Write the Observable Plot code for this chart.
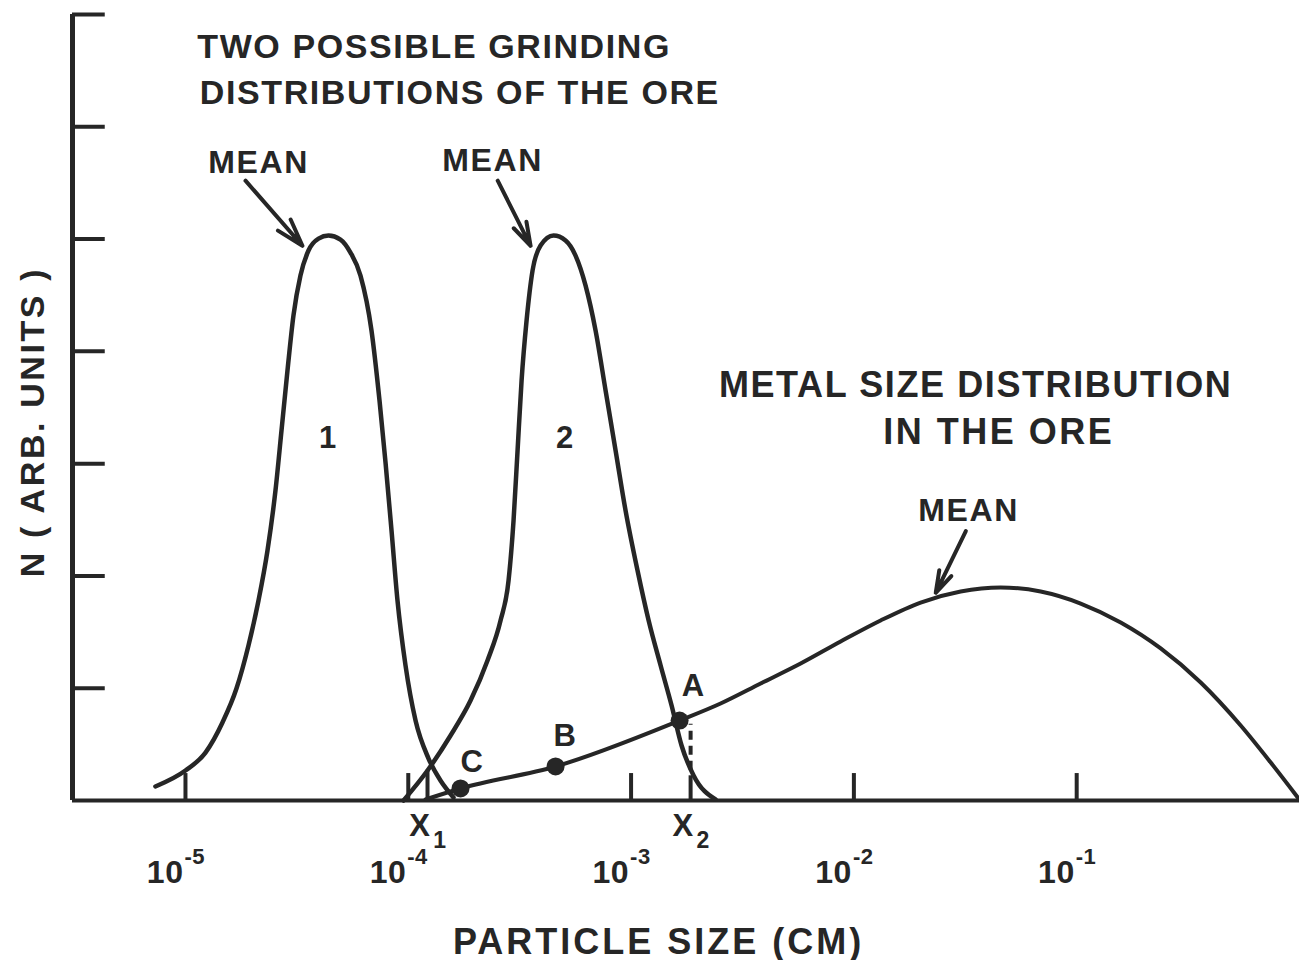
<!DOCTYPE html>
<html>
<head>
<meta charset="utf-8">
<script src="https://cdn.jsdelivr.net/npm/d3@7"></script>
<script src="https://cdn.jsdelivr.net/npm/@observablehq/plot@0.6"></script>
<style>
  html, body { margin: 0; padding: 0; background: #ffffff; }
  #chart { width: 1299px; height: 960px; }
  .xtitle text { letter-spacing: 3px; }
  .ytitle text { letter-spacing: 2.6px; }
  .wide text { letter-spacing: 2.5px; }
  .tight text { letter-spacing: 0.5px; }
</style>
</head>
<body>
<div id="chart"></div>
<script>
// ---------------- data (particle size in cm, N in arbitrary units) ----------------
// grinding distribution 1
const grind1Size = [7.33e-6, 1.0e-5, 1.23e-5, 1.466e-5, 1.694e-5, 1.918e-5, 2.127e-5, 2.334e-5, 2.535e-5, 2.698e-5, 2.87e-5, 3.053e-5, 3.282e-5, 3.566e-5, 3.955e-5, 4.385e-5, 4.963e-5, 5.503e-5, 6.103e-5, 6.839e-5, 7.429e-5, 7.905e-5, 8.41e-5, 8.946e-5, 9.72e-5, 1.078e-4, 1.233e-4, 1.395e-4, 1.596e-4];
const grind1N    = [0.125, 0.267, 0.427, 0.695, 0.997, 1.38, 1.781, 2.226, 2.76, 3.295, 3.829, 4.319, 4.675, 4.898, 5.004, 5.031, 4.996, 4.88, 4.675, 4.185, 3.562, 3.01, 2.404, 1.781, 1.202, 0.712, 0.374, 0.178, 0.027];

// grinding distribution 2
const grind2Size = [9.52e-5, 1.22e-4, 1.548e-4, 1.903e-4, 2.268e-4, 2.595e-4, 2.819e-4, 2.968e-4, 3.094e-4, 3.225e-4, 3.396e-4, 3.613e-4, 3.924e-4, 4.488e-4, 5.08e-4, 5.633e-4, 6.249e-4, 6.93e-4, 7.685e-4, 8.522e-4, 9.447e-4, 1.069e-3, 1.199e-3, 1.357e-3, 1.52e-3, 1.685e-3, 1.908e-3, 2.394e-3];
const grind2N    = [0.0, 0.267, 0.579, 0.89, 1.247, 1.603, 1.959, 2.493, 3.117, 3.74, 4.274, 4.72, 4.942, 5.031, 4.987, 4.853, 4.586, 4.185, 3.651, 3.117, 2.582, 2.048, 1.603, 1.202, 0.846, 0.49, 0.223, 0.009];

// metal size distribution in the ore
const metalSize = [1.195e-4, 1.716e-4, 4.583e-4, 1.651e-3, 2.522e-3, 3.814e-3, 5.767e-3, 8.719e-3, 1.318e-2, 1.993e-2, 3.014e-2, 4.558e-2, 6.891e-2, 0.1042, 0.1576, 0.2383, 0.3603, 0.5447, 0.7429, 0.982];
const metalN    = [0.009, 0.107, 0.303, 0.712, 0.864, 1.042, 1.22, 1.416, 1.603, 1.763, 1.861, 1.897, 1.861, 1.754, 1.585, 1.354, 1.051, 0.668, 0.338, 0.027];

// marked points C, B, A on the metal curve
const pointName = ["C", "B", "A"];
const pointSize = [1.716e-4, 4.583e-4, 1.651e-3];
const pointN    = [0.107, 0.303, 0.712];

// cut sizes X1, X2
const cutName = ["1", "2"];
const cutSize = [1.22e-4, 1.85e-3];

// axis ticks
const xTickValues = [1e-5, 1e-4, 1e-3, 1e-2, 1e-1];
const xTickExponents = ["-5", "-4", "-3", "-2", "-1"];
const yTickValues = [1, 2, 3, 4, 5, 6, 7];

// annotation labels
const meanSize = [2.13e-5, 2.39e-4, 3.27e-2];
const meanN    = [5.68, 5.70, 2.58];
const curveLabel = ["1", "2", "A", "B", "C"];
const curveLabelSize = [4.385e-5, 5.08e-4, 1.91e-3, 5.08e-4, 1.94e-4];
const curveLabelN    = [3.23, 3.23, 1.02, 0.57, 0.34];

const titleLines = ["TWO POSSIBLE GRINDING", "DISTRIBUTIONS OF THE ORE"];
const titleSize  = [1.13e-5, 1.16e-5];
const titleN     = [6.71, 6.30];

const metalLines = ["METAL SIZE DISTRIBUTION", "IN THE ORE"];
const metalLineSize = [3.52e-2, 4.47e-2];
const metalLineN    = [3.70, 3.28];

// arrows pointing to the means
const arrowFromSize = [1.86e-5, 2.52e-4, 3.18e-2];
const arrowFromN    = [5.52, 5.52, 2.40];
const arrowToSize   = [3.35e-5, 3.54e-4, 2.33e-2];
const arrowToN      = [4.94, 4.94, 1.85];

const xAxisTitle = "PARTICLE SIZE (CM)";
const yAxisTitle = "N ( ARB. UNITS )";

// ---------------- build ----------------
const ink = "#262626";
const font = "Liberation Sans, Arial, sans-serif";
const xMin = Math.pow(10, -5.507), xMax = 1;

const zip = (xs, ys) => xs.map((x, i) => ({x, y: ys[i]}));
const g1 = zip(grind1Size, grind1N);
const g2 = zip(grind2Size, grind2N);
const metal = zip(metalSize, metalN);
const pts = pointName.map((n, i) => ({n, x: pointSize[i], y: pointN[i]}));
const means = zip(meanSize, meanN);
const cLabels = curveLabel.map((t, i) => ({t, x: curveLabelSize[i], y: curveLabelN[i]}));
const titles = titleLines.map((t, i) => ({t, x: titleSize[i], y: titleN[i]}));
const mLines = metalLines.map((t, i) => ({t, x: metalLineSize[i], y: metalLineN[i]}));
const arrows = arrowFromSize.map((x, i) => ({x1: x, y1: arrowFromN[i], x2: arrowToSize[i], y2: arrowToN[i]}));
const xTicks = xTickValues.map((v, i) => ({v, e: xTickExponents[i]}));
const cuts = cutName.map((n, i) => ({n, v: cutSize[i]}));
const yTickEnd = Math.pow(10, -5.36);
const bold = {fill: ink, fontWeight: "bold", lineAnchor: "middle"};

const chart = Plot.plot({
  width: 1299,
  height: 960,
  marginLeft: 72,
  marginRight: 0,
  marginTop: 14,
  marginBottom: 160,
  style: {background: "#ffffff", fontFamily: font, letterSpacing: "1.6px", color: ink},
  x: {type: "log", domain: [xMin, xMax], axis: null},
  y: {domain: [0, 7], axis: null},
  marks: [
    // axes and ticks
    Plot.ruleY([0], {x1: xMin, x2: xMax, stroke: ink, strokeWidth: 4}),
    Plot.ruleX([xMin], {y1: 0, y2: 7, stroke: ink, strokeWidth: 5}),
    Plot.ruleY(yTickValues, {x1: xMin, x2: yTickEnd, stroke: ink, strokeWidth: 4}),
    Plot.ruleX(xTickValues, {y1: 0, y2: 0.24, stroke: ink, strokeWidth: 4}),
    Plot.ruleX(cuts, {x: "v", y1: 0, y2: (d, i) => i === 0 ? 0.27 : 0.22, stroke: ink, strokeWidth: 4}),
    Plot.ruleX([cutSize[1]], {y1: 0.27, y2: 0.68, stroke: ink, strokeWidth: 4, strokeDasharray: "9,6"}),
    // curves
    Plot.line(g1, {x: "x", y: "y", curve: "monotone-x", stroke: ink, strokeWidth: 4.5}),
    Plot.line(g2, {x: "x", y: "y", curve: "monotone-x", stroke: ink, strokeWidth: 4.5}),
    Plot.line(metal, {x: "x", y: "y", curve: "monotone-x", stroke: ink, strokeWidth: 4}),
    Plot.dot(pts, {x: "x", y: "y", r: 9, fill: ink, stroke: "none"}),
    // arrows
    Plot.arrow(arrows, {x1: "x1", y1: "y1", x2: "x2", y2: "y2", stroke: ink, strokeWidth: 4, headLength: 17, headAngle: 34}),
    // labels
    Plot.text(means, {x: "x", y: "y", text: () => "MEAN", ...bold, fontSize: 32, textAnchor: "middle"}),
    Plot.text(cLabels, {x: "x", y: "y", text: "t", ...bold, fontSize: 31, textAnchor: "middle"}),
    Plot.text(titles, {x: "x", y: "y", text: "t", ...bold, fontSize: 34, textAnchor: "start"}),
    Plot.text(mLines.slice(0, 1), {x: "x", y: "y", text: "t", ...bold, fontSize: 36, textAnchor: "middle"}),
    Plot.text(mLines.slice(1), {x: "x", y: "y", text: "t", ...bold, fontSize: 36, textAnchor: "middle", className: "wide"}),
    // tick labels 10^n
    Plot.text(xTicks, {x: "v", y: -0.64, text: () => "10", ...bold, fontSize: 32, textAnchor: "end", dx: -2, className: "tight"}),
    Plot.text(xTicks, {x: "v", y: -0.64, text: "e", ...bold, fontSize: 22, textAnchor: "start", dx: -1, dy: -15, className: "tight"}),
    // X1, X2
    Plot.text(cuts, {x: "v", y: -0.23, text: () => "X", ...bold, fontSize: 31, textAnchor: "middle", dx: -7}),
    Plot.text(cuts, {x: "v", y: -0.23, text: "n", ...bold, fontSize: 23, textAnchor: "middle", dx: 13, dy: 14}),
    // axis titles
    Plot.text([xAxisTitle], {x: 1.33e-3, y: -1.26, text: d => d, ...bold, fontSize: 36, textAnchor: "middle", className: "xtitle"}),
    Plot.text([yAxisTitle], {x: 2.08e-6, y: 3.37, text: d => d, ...bold, fontSize: 34, textAnchor: "middle", rotate: -90, className: "ytitle"})
  ]
});
document.getElementById("chart").appendChild(chart);
</script>
</body>
</html>
